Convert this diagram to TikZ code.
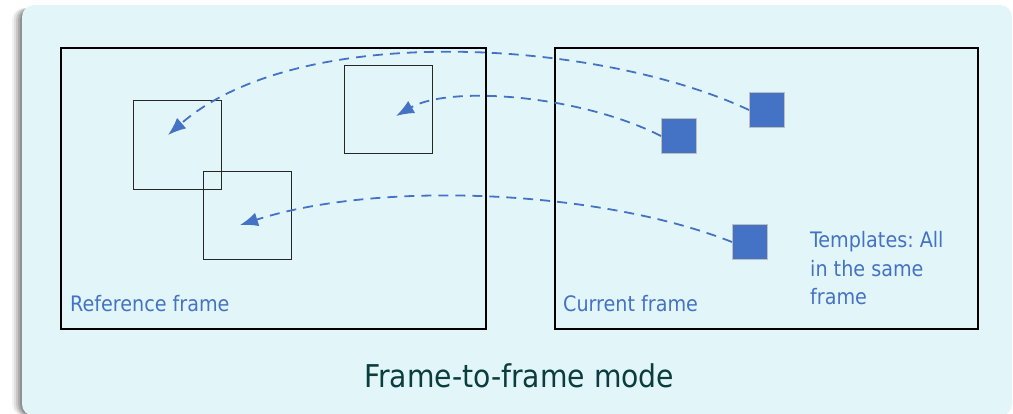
\documentclass[tikz,border=0pt]{standalone}
\usepackage{fontspec}
\setmainfont{DejaVu Sans Condensed}
\usetikzlibrary{arrows.meta}
\definecolor{bgfill}{HTML}{E2F6FA}
\definecolor{tblue}{HTML}{4472C4}
\definecolor{titlecol}{HTML}{0B3D3D}
\begin{document}
\begin{tikzpicture}[x=1pt,y=-1pt,
  frame/.style={draw=black,line width=2.8pt},
  refbox/.style={draw=black!85,line width=0.9pt},
  tmpl/.style={fill=tblue,draw=black!25,line width=1pt},
  link/.style={draw=tblue,line width=1.8pt,dash pattern=on 10pt off 7pt,
    -{Latex[length=18pt,width=14pt]}},
  lbl/.style={text=tblue,font=\fontsize{21.3}{28.5}\selectfont,inner sep=0pt}]
\useasboundingbox (0,0) rectangle (1013,413);
% soft shadow
\foreach \i/\o in {10/0.05,8/0.08,6/0.11,4/0.14,2/0.16}{
  \fill[black,opacity=\o,rounded corners=12pt] (22-\i,8) rectangle (1012-\i,416);
}
\fill[bgfill,rounded corners=12pt] (22,5) rectangle (1012,416);
% frames
\draw[frame] (61,48) rectangle (486,329);
\draw[frame] (555,48) rectangle (978,329);
% reference boxes
\draw[refbox] (133,100) rectangle (221,189);
\draw[refbox] (203,171) rectangle (291,259);
\draw[refbox] (344,65) rectangle (432,153);
% templates
\node[tmpl,minimum size=35pt,inner sep=0pt,anchor=north west] (t1) at (749,92) {};
\node[tmpl,minimum size=35pt,inner sep=0pt,anchor=north west] (t2) at (661,118) {};
\node[tmpl,minimum size=35pt,inner sep=0pt,anchor=north west] (t3) at (732,224) {};
\coordinate (a1) at (168,135);
\coordinate (a2) at (396,116);
\coordinate (a3) at (240,225);
\draw[link] (t1.west) .. controls (600,40) and (300,20) .. (a1);
\draw[link] (t2.west) .. controls (580,95) and (450,85) .. (a2);
\draw[link] (t3.west) .. controls (600,190) and (380,180) .. (a3);
% labels
\node[lbl,anchor=base west] (reflbl) at (70,311) {Reference frame};
\node[lbl,anchor=base west] (curlbl) at (563,311) {Current frame};
\node[lbl,anchor=base west,align=left] (tmpllbl) at (810,247) {Templates:~All};
\node[lbl,anchor=base west,align=left] (tmpllbl2) at (810,276) {in the same};
\node[lbl,anchor=base west,align=left] (tmpllbl3) at (810,304) {frame};
\node[text=titlecol,font=\fontsize{31.4}{36}\selectfont,inner sep=0pt,anchor=base west] (title) at (364,387) {Frame-to-frame mode};
\end{tikzpicture}
\end{document}
